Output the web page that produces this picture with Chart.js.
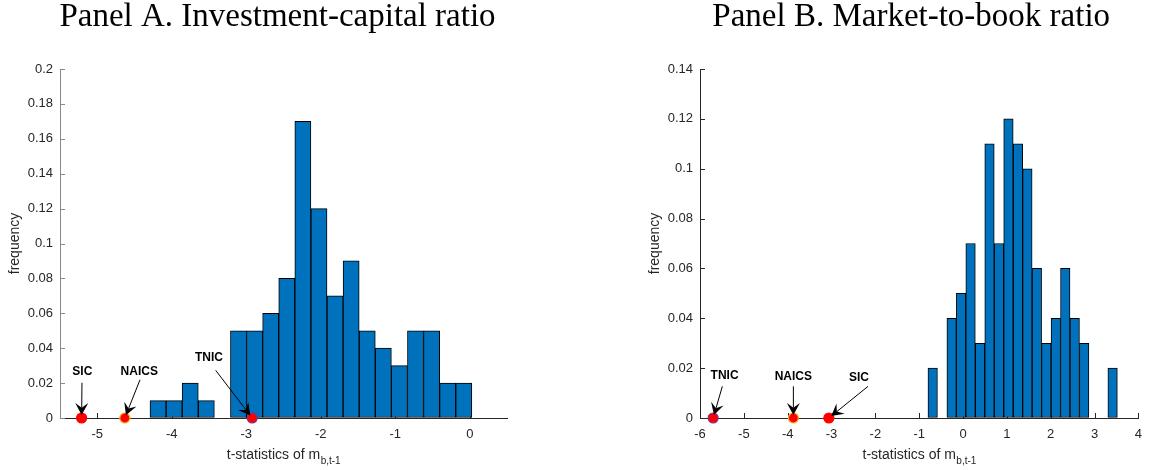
<!DOCTYPE html>
<html>
<head>
<meta charset="utf-8">
<title>Histograms of t-statistics</title>
<script src="https://cdn.jsdelivr.net/npm/chart.js@4.4.1/dist/chart.umd.min.js"></script>
<style>
  html, body { margin: 0; padding: 0; background: #fff; }
  body { width: 1151px; height: 470px; position: relative; overflow: hidden; }
  .panel { position: absolute; top: 0; height: 470px; }
  #panelA { left: 0; width: 530px; }
  #panelB { left: 640px; width: 511px; }
</style>
</head>
<body>
<div class="panel" id="panelA"><canvas id="chartA"></canvas></div>
<div class="panel" id="panelB"><canvas id="chartB"></canvas></div>
<script>
// Panel A. Investment-capital ratio
const binCentersA = [-4.184, -3.968, -3.752, -3.536, -3.320, -3.104, -2.888, -2.672, -2.456, -2.240,
                     -2.024, -1.808, -1.592, -1.376, -1.160, -0.944, -0.728, -0.512, -0.296, -0.080];
const freqA = [0.01, 0.01, 0.02, 0.01, 0, 0.05, 0.05, 0.06, 0.08, 0.17,
               0.12, 0.07, 0.09, 0.05, 0.04, 0.03, 0.05, 0.05, 0.02, 0.02];
const markerNamesA = ['SIC', 'NAICS', 'TNIC'];
const markerTstatsA = [-5.21, -4.63, -2.92];
const xTicksA = [-5, -4, -3, -2, -1, 0];
const xTickLabelsA = ['-5', '-4', '-3', '-2', '-1', '0'];
const yTicksA = [0, 0.02, 0.04, 0.06, 0.08, 0.1, 0.12, 0.14, 0.16, 0.18, 0.2];
const yTickLabelsA = ['0', '0.02', '0.04', '0.06', '0.08', '0.1', '0.12', '0.14', '0.16', '0.18', '0.2'];

// Panel B. Market-to-book ratio
const binCentersB = [-0.692, -0.476, -0.260, -0.044, 0.172, 0.388, 0.604, 0.820, 1.036, 1.252,
                     1.468, 1.684, 1.900, 2.116, 2.332, 2.548, 2.764, 2.980, 3.196, 3.412];
const freqB = [0.02, 0, 0.04, 0.05, 0.07, 0.03, 0.11, 0.07, 0.12, 0.11,
               0.10, 0.06, 0.03, 0.04, 0.06, 0.04, 0.03, 0, 0, 0.02];
const markerNamesB = ['TNIC', 'NAICS', 'SIC'];
const markerTstatsB = [-5.70, -3.87, -3.06];
const xTicksB = [-6, -5, -4, -3, -2, -1, 0, 1, 2, 3, 4];
const xTickLabelsB = ['-6', '-5', '-4', '-3', '-2', '-1', '0', '1', '2', '3', '4'];
const yTicksB = [0, 0.02, 0.04, 0.06, 0.08, 0.1, 0.12, 0.14];
const yTickLabelsB = ['0', '0.02', '0.04', '0.06', '0.08', '0.1', '0.12', '0.14'];

const BAR_BLUE = '#0072BD';
const TEXT_GRAY = '#262626';
const markerEdge = { SIC: '#ff0000', NAICS: '#EDB120', TNIC: '#7E2F8E' };

function drawArrow(ctx, x0, y0, x1, y1) {
  const ang = Math.atan2(y1 - y0, x1 - x0);
  const L = 12, W = 6.5;
  ctx.beginPath();
  ctx.moveTo(x0, y0);
  ctx.lineTo(x1 - Math.cos(ang) * L * 0.6, y1 - Math.sin(ang) * L * 0.6);
  ctx.stroke();
  ctx.save();
  ctx.translate(x1, y1);
  ctx.rotate(ang);
  ctx.beginPath();
  ctx.moveTo(0, 0);
  ctx.lineTo(-L, -W);
  ctx.lineTo(-L * 0.6, 0);
  ctx.lineTo(-L, W);
  ctx.closePath();
  ctx.fill();
  ctx.restore();
}

// inward ticks, arrows with labels, panel title and x label with subscript
const panelDecor = {
  id: 'panelDecor',
  beforeDatasetsDraw(chart, args, opts) {
    const { ctx, chartArea, scales: { x, y } } = chart;
    ctx.save();
    ctx.lineWidth = 1;
    ctx.strokeStyle = opts.xAxisColor;
    x.ticks.forEach(t => {
      const px = Math.round(x.getPixelForValue(t.value)) + 0.5;
      ctx.beginPath();
      ctx.moveTo(px, chartArea.bottom);
      ctx.lineTo(px, chartArea.bottom - 5);
      ctx.stroke();
    });
    ctx.strokeStyle = opts.yAxisColor;
    y.ticks.forEach(t => {
      const py = Math.round(y.getPixelForValue(t.value)) + 0.5;
      ctx.beginPath();
      ctx.moveTo(chartArea.left, py);
      ctx.lineTo(chartArea.left + 5, py);
      ctx.stroke();
    });
    ctx.restore();
  },
  afterDatasetsDraw(chart, args, opts) {
    const { ctx, scales: { x, y } } = chart;
    const pts = chart.getDatasetMeta(1).data;
    ctx.save();
    ctx.fillStyle = '#000';
    ctx.strokeStyle = '#000';
    ctx.lineWidth = 1;
    ctx.font = 'bold 12px "Liberation Sans", Arial, sans-serif';
    ctx.textAlign = 'center';
    ctx.textBaseline = 'middle';
    opts.notes.forEach(n => {
      const p = pts[n.marker];
      ctx.fillText(n.text, x.getPixelForValue(n.at[0]), y.getPixelForValue(n.at[1]));
      const tx = x.getPixelForValue(n.tail[0]), ty = y.getPixelForValue(n.tail[1]);
      const d = Math.hypot(p.x - tx, p.y - ty);
      const hx = p.x - (p.x - tx) / d * 3, hy = p.y - (p.y - ty) / d * 3;
      drawArrow(ctx, tx, ty, hx, hy);
    });
    ctx.restore();
  },
  afterDraw(chart, args, opts) {
    const { ctx, chartArea } = chart;
    const cx = (chartArea.left + chartArea.right) / 2;
    ctx.save();
    ctx.fillStyle = '#000';
    ctx.textBaseline = 'alphabetic';
    ctx.textAlign = 'center';
    ctx.font = '33px "Liberation Serif", "Times New Roman", serif';
    ctx.fillText(opts.title, cx + opts.titleShift, 26);

    ctx.fillStyle = TEXT_GRAY;
    ctx.textAlign = 'left';
    const mainFont = '14px "Liberation Sans", Arial, sans-serif';
    const subFont = '10px "Liberation Sans", Arial, sans-serif';
    ctx.font = mainFont;
    const w1 = ctx.measureText(opts.xLabel).width;
    ctx.font = subFont;
    const w2 = ctx.measureText(opts.xSub).width;
    const x0 = cx - (w1 + w2) / 2;
    ctx.font = mainFont;
    ctx.fillText(opts.xLabel, x0, 459);
    ctx.font = subFont;
    ctx.fillText(opts.xSub, x0 + w1 + 0.5, 464);
    ctx.restore();
  }
};

function makeChart(id, cfg) {
  const tickFont = { family: '"Liberation Sans", Arial, sans-serif', size: 13 };
  return new Chart(document.getElementById(id), {
    type: 'bar',
    data: {
      datasets: [
        {
          label: 'frequency',
          data: cfg.centers.map((c, i) => ({ x: c, y: cfg.freq[i] })),
          backgroundColor: BAR_BLUE,
          borderColor: '#000',
          borderWidth: 1,
          borderSkipped: false,
          barPercentage: 1,
          categoryPercentage: 1,
          order: 1
        },
        {
          type: 'scatter',
          label: 'classification',
          data: cfg.markerX.map(v => ({ x: v, y: 0 })),
          pointRadius: 5,
          pointBackgroundColor: '#ff0000',
          pointBorderColor: cfg.names.map(n => markerEdge[n]),
          pointBorderWidth: 1.2,
          clip: false,
          order: 0
        }
      ]
    },
    options: {
      responsive: true,
      maintainAspectRatio: false,
      animation: false,
      devicePixelRatio: 1,
      layout: { padding: { left: 0, right: cfg.padRight, top: 69, bottom: 0 } },
      plugins: {
        legend: { display: false },
        tooltip: { enabled: false },
        panelDecor: {
          title: cfg.title,
          titleShift: cfg.titleShift,
          xLabel: 't-statistics of m',
          xSub: 'b,t-1',
          xAxisColor: '#262626',
          yAxisColor: cfg.yAxisColor,
          notes: cfg.notes
        }
      },
      scales: {
        x: {
          type: 'linear',
          min: cfg.xMin,
          max: cfg.xMax,
          offset: false,
          grid: { display: true, drawOnChartArea: false, drawTicks: false, offset: false },
          border: { display: true, color: '#262626', width: 1 },
          afterBuildTicks: s => { s.ticks = cfg.xTicks.map(v => ({ value: v })); },
          afterFit: s => { s.height = 52; },
          ticks: {
            autoSkip: false,
            maxRotation: 0,
            padding: 9,
            color: TEXT_GRAY,
            font: tickFont,
            callback: (v, i) => cfg.xTickLabels[i]
          }
        },
        y: {
          type: 'linear',
          min: 0,
          max: cfg.yMax,
          grid: { display: true, drawOnChartArea: false, drawTicks: false },
          border: { display: true, color: cfg.yAxisColor, width: 1 },
          afterBuildTicks: s => { s.ticks = cfg.yTicks.map(v => ({ value: v })); },
          afterFit: s => { s.width = 60; },
          ticks: {
            autoSkip: false,
            padding: 7,
            color: TEXT_GRAY,
            font: tickFont,
            callback: (v, i) => cfg.yTickLabels[i]
          },
          title: {
            display: true,
            text: 'frequency',
            color: TEXT_GRAY,
            font: { family: '"Liberation Sans", Arial, sans-serif', size: 14 },
            padding: { top: 7, bottom: 0 }
          }
        }
      }
    },
    plugins: [panelDecor]
  });
}

makeChart('chartA', {
  centers: binCentersA, freq: freqA, names: markerNamesA, markerX: markerTstatsA,
  xTicks: xTicksA, xTickLabels: xTickLabelsA, yTicks: yTicksA, yTickLabels: yTickLabelsA,
  xMin: -5.5, xMax: 0.5, yMax: 0.2, padRight: 23,
  title: 'Panel A. Investment-capital ratio', titleShift: -6,
  yAxisColor: '#8a8a8a',
  notes: [
    { text: 'SIC', marker: 0, at: [-5.20, 0.0267], tail: [-5.205, 0.0202] },
    { text: 'NAICS', marker: 1, at: [-4.436, 0.0267], tail: [-4.426, 0.0219] },
    { text: 'TNIC', marker: 2, at: [-3.50, 0.0345], tail: [-3.41, 0.0273] }
  ]
});

makeChart('chartB', {
  centers: binCentersB, freq: freqB, names: markerNamesB, markerX: markerTstatsB,
  xTicks: xTicksB, xTickLabels: xTickLabelsB, yTicks: yTicksB, yTickLabels: yTickLabelsB,
  xMin: -6, xMax: 4, yMax: 0.14, padRight: 5,
  title: 'Panel B. Market-to-book ratio', titleShift: -8,
  yAxisColor: '#262626',
  notes: [
    { text: 'TNIC', marker: 0, at: [-5.44, 0.0171], tail: [-5.49, 0.0127] },
    { text: 'NAICS', marker: 1, at: [-3.87, 0.0167], tail: [-3.87, 0.0127] },
    { text: 'SIC', marker: 2, at: [-2.374, 0.0163], tail: [-2.166, 0.0127] }
  ]
});
</script>
</body>
</html>
